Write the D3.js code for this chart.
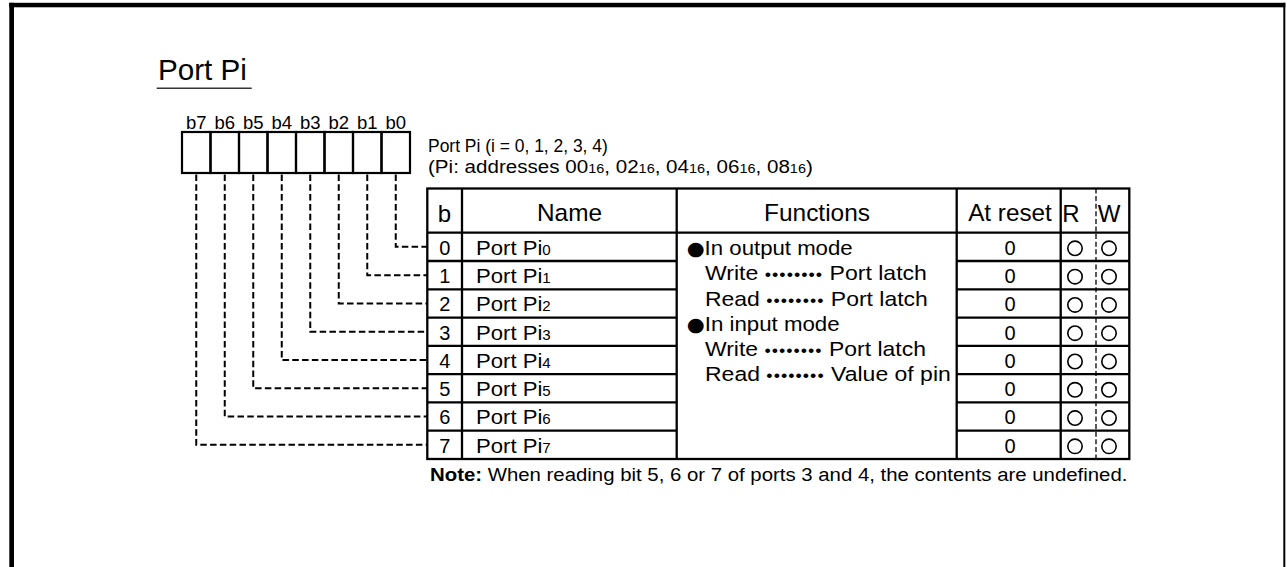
<!DOCTYPE html>
<html><head><meta charset="utf-8">
<script src="https://cdn.jsdelivr.net/npm/d3@7"></script>
<style>
body{margin:0;background:#fff}
svg{display:block}
text{font-family:"Liberation Sans",Arial,Helvetica,sans-serif;fill:#000}
</style>
</head><body>
<svg id="c" width="1287" height="567"></svg>
<script>
// ---------- data ----------
const titleText = "Port Pi";
const bitLabels = ["b7","b6","b5","b4","b3","b2","b1","b0"];
const infoLine1 = "Port Pi (i = 0, 1, 2, 3, 4)";
const addrPrefix = "(Pi: addresses ";
const addresses = ["00","02","04","06","08"];
const addrRadix = "16";
const headers = ["b","Name","Functions","At reset","R","W"];
const bitNumbers = [0,1,2,3,4,5,6,7];
const nameBase = "Port Pi";
const nameSubs = ["0","1","2","3","4","5","6","7"];
const resetValues = ["0","0","0","0","0","0","0","0"];
const readMarks = ["○","○","○","○","○","○","○","○"];
const writeMarks = ["○","○","○","○","○","○","○","○"];
const functionLines = [
  {bullet:"●", text:"In output mode"},
  {label:"Write", dots:"••••••••", value:"Port latch"},
  {label:"Read",  dots:"••••••••", value:"Port latch"},
  {bullet:"●", text:"In input mode"},
  {label:"Write", dots:"••••••••", value:"Port latch"},
  {label:"Read",  dots:"••••••••", value:"Value of pin"}
];
const noteBold = "Note:";
const noteText = " When reading bit 5, 6 or 7 of ports 3 and 4, the contents are undefined.";

// ---------- layout ----------
const svg = d3.select("#c");
const FONT = 20.5;

function fit(sel, ax, targetW){
  const w = sel.node().getBBox().width;
  if (!w) return;
  const s = targetW / w;
  sel.attr("transform", `translate(${ax},0) scale(${s},1) translate(${-ax},0)`);
}

// outer frame
svg.append("rect").attr("x",9.3).attr("y",2.8).attr("width",1276).attr("height",4.5).attr("fill","#000");
svg.append("rect").attr("x",9.3).attr("y",2.8).attr("width",4.7).attr("height",570).attr("fill","#000");
svg.append("rect").attr("x",1283.3).attr("y",2.8).attr("width",2).attr("height",570).attr("fill","#000");

// title
const tt = svg.append("text").attr("x",158).attr("y",80).attr("font-size",29).text(titleText);
fit(tt,158,89);
svg.append("line").attr("x1",156.7).attr("x2",251.7).attr("y1",88.3).attr("y2",88.3)
  .attr("stroke","#333").attr("stroke-width",1.5);

// register boxes
const bx = d3.scaleBand().domain(bitLabels).range([182,410]);
const boxTop = 132, boxBot = 173;
svg.append("g").selectAll("rect").data(bitLabels).join("rect")
  .attr("x",d=>bx(d)).attr("y",boxTop).attr("width",bx.bandwidth()).attr("height",boxBot-boxTop)
  .attr("fill","none").attr("stroke","#000").attr("stroke-width",2.2);
svg.append("g").selectAll("text").data(bitLabels).join("text")
  .attr("x",d=>bx(d)+bx.bandwidth()/2).attr("y",128.5).attr("text-anchor","middle")
  .attr("font-size",18.5).text(d=>d);

// info text
const i1 = svg.append("text").attr("x",428).attr("y",152).attr("font-size",18.5).text(infoLine1);
fit(i1,428,180);
const i2 = svg.append("text").attr("x",428).attr("y",173.5).attr("font-size",18.5);
i2.append("tspan").text(addrPrefix);
addresses.forEach((a,k)=>{
  i2.append("tspan").text(a);
  i2.append("tspan").attr("font-size",13).text(addrRadix);
  i2.append("tspan").text(k<addresses.length-1 ? ", " : ")");
});
fit(i2,428,385);

// table geometry
const colX = [427.3, 462, 676.7, 956.7, 1060.7, 1096, 1129.3];
const headTop = 188.5, headBot = 232.7, tabBot = 459;
const ry = d3.scaleBand().domain(bitNumbers).range([headBot, tabBot]);
const rowC = n => ry(n) + ry.bandwidth()/2;

// dashed connectors
svg.append("g").selectAll("path").data(bitLabels).join("path")
  .attr("d",(d,j)=>{const n = 7-j; const cx = bx(d)+bx.bandwidth()/2;
     return `M${cx},${boxBot+1.5}V${rowC(n)}H${colX[0]}`;})
  .attr("fill","none").attr("stroke","#000").attr("stroke-width",2)
  .attr("stroke-dasharray","6.5,3.3");

const tg = svg.append("g").attr("stroke","#000").attr("stroke-width",2.3).attr("fill","none");
tg.append("rect").attr("x",colX[0]).attr("y",headTop).attr("width",colX[6]-colX[0]).attr("height",tabBot-headTop);
[1,2,3,4].forEach(k=>tg.append("line").attr("x1",colX[k]).attr("x2",colX[k]).attr("y1",headTop).attr("y2",tabBot));
tg.append("line").attr("x1",colX[0]).attr("x2",colX[6]).attr("y1",headBot).attr("y2",headBot);
bitNumbers.slice(1).forEach(n=>{
  tg.append("line").attr("x1",colX[0]).attr("x2",colX[2]).attr("y1",ry(n)).attr("y2",ry(n));
  tg.append("line").attr("x1",colX[3]).attr("x2",colX[6]).attr("y1",ry(n)).attr("y2",ry(n));
});
svg.append("line").attr("x1",colX[5]).attr("x2",colX[5]).attr("y1",headTop).attr("y2",tabBot)
  .attr("stroke","#000").attr("stroke-width",1.3).attr("stroke-dasharray","5,2.6");

// headers
const headPos = [{c:444.5,w:0},{c:569.5,w:65},{c:817,w:106},{c:1010,w:84},{c:1071,w:0},{c:1109,w:0}];
headers.forEach((h,k)=>{
  const t = svg.append("text").attr("x",headPos[k].c).attr("y",221.5).attr("text-anchor","middle")
    .attr("font-size",24).text(h);
  if (headPos[k].w) fit(t,headPos[k].c,headPos[k].w);
});

// rows
bitNumbers.forEach(n=>{
  const base = ry(n) + 22;
  svg.append("text").attr("x",444.7).attr("y",base).attr("text-anchor","middle").attr("font-size",20).text(n);
  const nm = svg.append("text").attr("x",476).attr("y",base).attr("font-size",FONT);
  nm.append("tspan").text(nameBase);
  nm.append("tspan").attr("font-size",14).text(nameSubs[n]);
  fit(nm,476,75);
  svg.append("text").attr("x",1010).attr("y",base).attr("text-anchor","middle").attr("font-size",20).text(resetValues[n]);
  if (readMarks[n]==="○") svg.append("circle").attr("cx",1075).attr("cy",rowC(n)+1.5).attr("r",7.2)
     .attr("fill","none").attr("stroke","#000").attr("stroke-width",1.6);
  if (writeMarks[n]==="○") svg.append("circle").attr("cx",1109).attr("cy",rowC(n)+1.5).attr("r",7.2)
     .attr("fill","none").attr("stroke","#000").attr("stroke-width",1.6);
});

// functions
const fnWidths = [166, 222, 223, 153, 221, 246];
functionLines.forEach((L,i)=>{
  const y = 255 + i*25.3;
  const x0 = L.bullet ? 686.7 : 705;
  const t = svg.append("text").attr("x",x0).attr("y",y).attr("font-size",FONT);
  if (L.bullet){
    t.append("tspan").attr("font-family","DejaVu Sans").attr("font-size",19).text(L.bullet);
    t.append("tspan").text(L.text);
  } else {
    t.append("tspan").text(L.label + " ");
    t.append("tspan").attr("font-size",16).attr("letter-spacing",0.9).text(L.dots);
    t.append("tspan").text(" " + L.value);
  }
  fit(t,x0,fnWidths[i]);
});

// note
const nt = svg.append("text").attr("x",430).attr("y",481).attr("font-size",19);
nt.append("tspan").attr("font-weight","bold").text(noteBold);
nt.append("tspan").text(noteText);
fit(nt,430,698);
</script>
</body></html>
